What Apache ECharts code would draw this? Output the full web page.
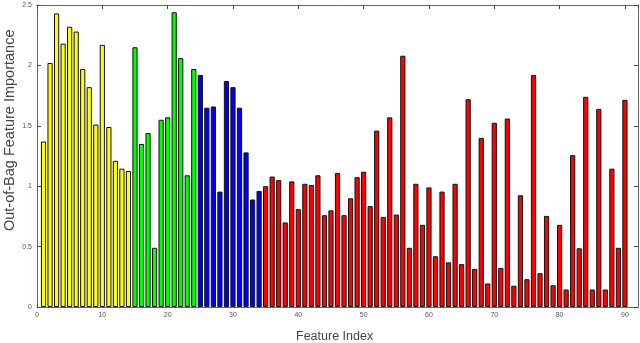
<!DOCTYPE html>
<html>
<head>
<meta charset="utf-8">
<script src="https://cdn.jsdelivr.net/npm/echarts@6/dist/echarts.min.js"></script>
<style>html,body{margin:0;padding:0;background:#fff}#c{width:640px;height:343px}</style>
</head>
<body>
<div id="c"></div>
<script>
// Feature importance values, grouped by colour (feature index starts at given start)
const yellowStart = 1;
const yellowValues = [1.37, 2.02, 2.43, 2.18, 2.32, 2.28, 1.97, 1.82, 1.51, 2.17, 1.49, 1.21, 1.145, 1.126];
const greenStart = 15;
const greenValues = [2.15, 1.35, 1.44, 0.49, 1.55, 1.57, 2.44, 2.06, 1.09, 1.97];
const blueStart = 25;
const blueValues = [1.92, 1.65, 1.66, 0.955, 1.87, 1.82, 1.65, 1.28, 0.89, 0.96];
const redStart = 35;
const redValues = [1.00, 1.08, 1.05, 0.70, 1.04, 0.81, 1.02, 1.01, 1.09, 0.76, 0.80, 1.11,
  0.76, 0.90, 1.075, 1.12, 0.835, 1.46, 0.746, 1.57, 0.765, 2.08, 0.49, 1.02, 0.68, 0.99,
  0.42, 0.955, 0.37, 1.02, 0.355, 1.72, 0.315, 1.40, 0.195, 1.525, 0.324, 1.56, 0.176, 0.925,
  0.23, 1.92, 0.28, 0.754, 0.18, 0.68, 0.145, 1.257, 0.486, 1.74, 0.145, 1.64, 0.145, 1.145,
  0.49, 1.715];
const xTicks = [0, 10, 20, 30, 40, 50, 60, 70, 80, 90];
const yTicks = [0, 0.5, 1, 1.5, 2, 2.5];

function toPairs(start, vals) { return vals.map((v, i) => [start + i, v]); }

const chart = echarts.init(document.getElementById('c'), null, {renderer: 'canvas'});
const fontFam = '"Liberation Sans", Arial, sans-serif';
const mkSeries = (name, color, start, vals) => ({
  name, type: 'bar', data: toPairs(start, vals), barWidth: 5.2, barGap: '-100%',
  itemStyle: {color, borderColor: '#111', borderWidth: 1}, silent: true, animation: false
});
const tickLabel = {fontSize: 7, color: '#555', fontFamily: fontFam};
chart.setOption({
  animation: false,
  grid: {left: 37, right: 2, top: 5, bottom: 36, containLabel: false},
  xAxis: [
    {type: 'value', min: 0, max: 92, interval: 10, position: 'bottom',
     axisLine: {onZero: false, lineStyle: {color: '#666', width: 1}},
     axisTick: {inside: true, length: 4, lineStyle: {color: '#444'}},
     axisLabel: Object.assign({margin: 5, formatter: v => xTicks.includes(v) ? String(v) : '', showMaxLabel: false}, tickLabel),
     splitLine: {show: false}},
    {type: 'value', min: 0, max: 92, interval: 10, position: 'top',
     axisLine: {onZero: false, lineStyle: {color: '#666', width: 1}},
     axisTick: {inside: true, length: 4, lineStyle: {color: '#444'}},
     axisLabel: {show: false}, splitLine: {show: false}}
  ],
  yAxis: [
    {type: 'value', min: 0, max: 2.5, interval: 0.5, position: 'left',
     axisLine: {show: true, onZero: false, lineStyle: {color: '#666', width: 1}},
     axisTick: {show: true, inside: true, length: 4, lineStyle: {color: '#444'}},
     axisLabel: Object.assign({margin: 5, formatter: v => yTicks.includes(v) ? String(v) : ''}, tickLabel),
     splitLine: {show: false}},
    {type: 'value', min: 0, max: 2.5, interval: 0.5, position: 'right',
     axisLine: {show: true, onZero: false, lineStyle: {color: '#666', width: 1}},
     axisTick: {show: true, inside: true, length: 4, lineStyle: {color: '#444'}},
     axisLabel: {show: false}, splitLine: {show: false}}
  ],
  series: [
    mkSeries('yellow', '#ffff00', yellowStart, yellowValues),
    mkSeries('green', '#00ff00', greenStart, greenValues),
    mkSeries('blue', '#0000ff', blueStart, blueValues),
    mkSeries('red', '#ff0000', redStart, redValues)
  ],
  graphic: [
    {type: 'text', left: 296, top: 330, style: {text: 'Feature Index', font: '12.5px "Liberation Sans", Arial, sans-serif', fill: '#444'}},
    {type: 'text', x: 2, y: 231, rotation: Math.PI / 2, style: {text: 'Out-of-Bag Feature Importance', font: '14.5px "Liberation Sans", Arial, sans-serif', fill: '#444', textAlign: 'left', textVerticalAlign: 'top'}}
  ]
});
</script>
</body>
</html>
